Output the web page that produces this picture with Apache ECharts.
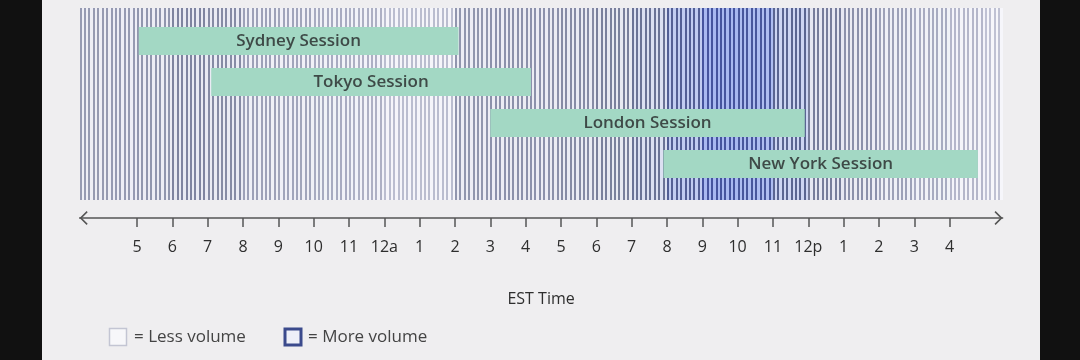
<!DOCTYPE html>
<html><head><meta charset="utf-8">
<script src="https://cdn.jsdelivr.net/npm/echarts@6/dist/echarts.min.js"></script>
<style>html,body{margin:0;padding:0;background:#111;}#c{width:1080px;height:360px;}</style>
</head><body><div id="c"></div>
<script>
// ---- data ----
const tickHours = [0,1,2,3,4,5,6,7,8,9,10,11,12,13,14,15,16,17,18,19,20,21,22,23];
const tickLabels = ['5','6','7','8','9','10','11','12a','1','2','3','4','5','6','7','8','9','10','11','12p','1','2','3','4'];
// hour index relative to 5pm; volume level 0..1 for each hour (from 3pm to 5pm next day)
const volumeHours  = [-2,-1,0,1,2,3,4,5,6,7,8,9,10,11,12,13,14,15,16,17,18,19,20,21,22,23,24];
const volumeLevels = [0.38,0.38,0.4,0.48,0.45,0.35,0.33,0.3,0.28,0.22,0.22,0.4,0.42,0.42,0.45,0.5,0.6,0.8,0.97,0.93,0.72,0.52,0.42,0.35,0.3,0.25,0.2];
const sessionNames = ['Sydney Session','Tokyo Session','London Session','New York Session'];
const sessionStart = [0.05, 2.1, 10.0, 14.9];
const sessionEnd   = [9.1, 11.15, 18.9, 23.8];
const STRIPES_PER_HOUR = 8;
const X_MIN = -1.625, X_MAX = 24.5;

// ---- build ----
const stripeData = [];
volumeHours.forEach((h, i) => {
  for (let k = 0; k < STRIPES_PER_HOUR; k++) {
    const t = h + k / STRIPES_PER_HOUR;
    if (t >= X_MIN - 1e-9 && t < X_MAX - 1e-9) stripeData.push([t, volumeLevels[i]]);
  }
});
const sessionData = sessionNames.map((n, i) => [sessionStart[i], sessionEnd[i], i, n]);

function lerpC(a, b, f) {
  const pa = [1,3,5].map(j => parseInt(a.substr(j,2),16));
  const pb = [1,3,5].map(j => parseInt(b.substr(j,2),16));
  return 'rgb(' + pa.map((v, j) => Math.round(v + (pb[j]-v)*f)).join(',') + ')';
}
function ramp(stops, lv) {
  for (let i = 0; i < stops.length - 1; i++) {
    if (lv <= stops[i+1][0]) {
      const f = (lv - stops[i][0]) / (stops[i+1][0] - stops[i][0]);
      return lerpC(stops[i][1], stops[i+1][1], Math.max(0, Math.min(1, f)));
    }
  }
  return stops[stops.length-1][1];
}
const stripeStops = [[0.2,'#bfc1d3'],[0.5,'#7a809c'],[0.7,'#5c6690'],[1.0,'#4252a0']];
const gapStops    = [[0.2,'#f6f6fb'],[0.5,'#e8e9f2'],[0.7,'#d0d7f2'],[1.0,'#a3b5f0']];

const FONT = 'Open Sans';
const chart = echarts.init(document.getElementById('c'), null, {renderer: 'canvas'});
chart.setOption({
  backgroundColor: '#efeef0',
  animation: false,
  grid: {left: 79.6, right: 77.4, top: 8, bottom: 142},
  xAxis: {
    type: 'value', min: X_MIN, max: X_MAX,
    name: 'EST Time', nameLocation: 'middle', nameGap: 73,
    nameTextStyle: {fontSize: 16, fontWeight: 500, color: '#2e2e2e', fontFamily: FONT},
    splitLine: {show: false},
    axisLine: {show: true, lineStyle: {color: '#555', width: 1.5},
      symbol: ['path://M7,0 L14,7 L12.8,8.1 L7,2.3 L1.2,8.1 L0,7 Z M7,-8.1 L7.01,-8.1 L7,-8.09 Z',
               'path://M7,0 L14,7 L12.8,8.1 L7,2.3 L1.2,8.1 L0,7 Z M7,-8.1 L7.01,-8.1 L7,-8.09 Z'],
      symbolSize: [14, 16.2]},
    axisTick: {show: true, customValues: tickHours, length: 9, lineStyle: {color: '#555', width: 1.5}},
    axisLabel: {customValues: tickHours, margin: 21, fontSize: 16, fontWeight: 500, color: '#2e2e2e', fontFamily: FONT,
      formatter: v => tickLabels[tickHours.indexOf(Math.round(v))]}
  },
  yAxis: {type: 'value', min: 0, max: 210, show: false},
  series: [
    {
      type: 'custom', clip: true, data: stripeData,
      renderItem: (params, api) => {
        const t = api.value(0), lv = api.value(1);
        const p0 = api.coord([t, 210]), p1 = api.coord([t + 1/STRIPES_PER_HOUR, 18]);
        const x0 = Math.round(p0[0]), x1 = Math.round(p1[0]);
        const h = p1[1] - p0[1];
        return {type: 'group', children: [
          {type: 'rect', shape: {x: x0, y: p0[1], width: x1 - x0, height: h}, style: {fill: ramp(gapStops, lv)}},
          {type: 'rect', shape: {x: x0, y: p0[1], width: 2, height: h}, style: {fill: ramp(stripeStops, lv)}}
        ]};
      }
    },
    {
      type: 'custom', clip: true, data: sessionData,
      renderItem: (params, api) => {
        const row = api.value(2);
        const top = 191 - row * 41;
        const p0 = api.coord([api.value(0), top]), p1 = api.coord([api.value(1), top - 28]);
        return {
          type: 'rect',
          shape: {x: p0[0], y: p0[1], width: p1[0] - p0[0], height: p1[1] - p0[1]},
          style: {fill: '#a3d8c4'},
          textContent: {style: {text: sessionNames[row], fill: '#3e4a47', fontSize: 17, fontWeight: 600, fontFamily: FONT}},
          textConfig: {position: 'inside'}
        };
      }
    }
  ],
  graphic: [
    {type: 'rect', left: 0, top: 0, shape: {width: 42, height: 360}, style: {fill: '#111'}},
    {type: 'rect', left: 1040, top: 0, shape: {width: 40, height: 360}, style: {fill: '#111'}},
    {type: 'rect', shape: {x: 109.5, y: 328.5, width: 17, height: 17}, style: {fill: '#f7f7fa', stroke: '#c3c5d3', lineWidth: 1.5}},
    {type: 'text', x: 134, y: 337, style: {text: '= Less volume', fill: '#444', fontSize: 17, fontWeight: 500, fontFamily: FONT, verticalAlign: 'middle'}},
    {type: 'rect', shape: {x: 285, y: 329, width: 16, height: 16}, style: {fill: '#eef0f8', stroke: '#3b4a8c', lineWidth: 3}},
    {type: 'text', x: 308, y: 337, style: {text: '= More volume', fill: '#444', fontSize: 17, fontWeight: 500, fontFamily: FONT, verticalAlign: 'middle'}}
  ]
});
</script>
</body></html>
